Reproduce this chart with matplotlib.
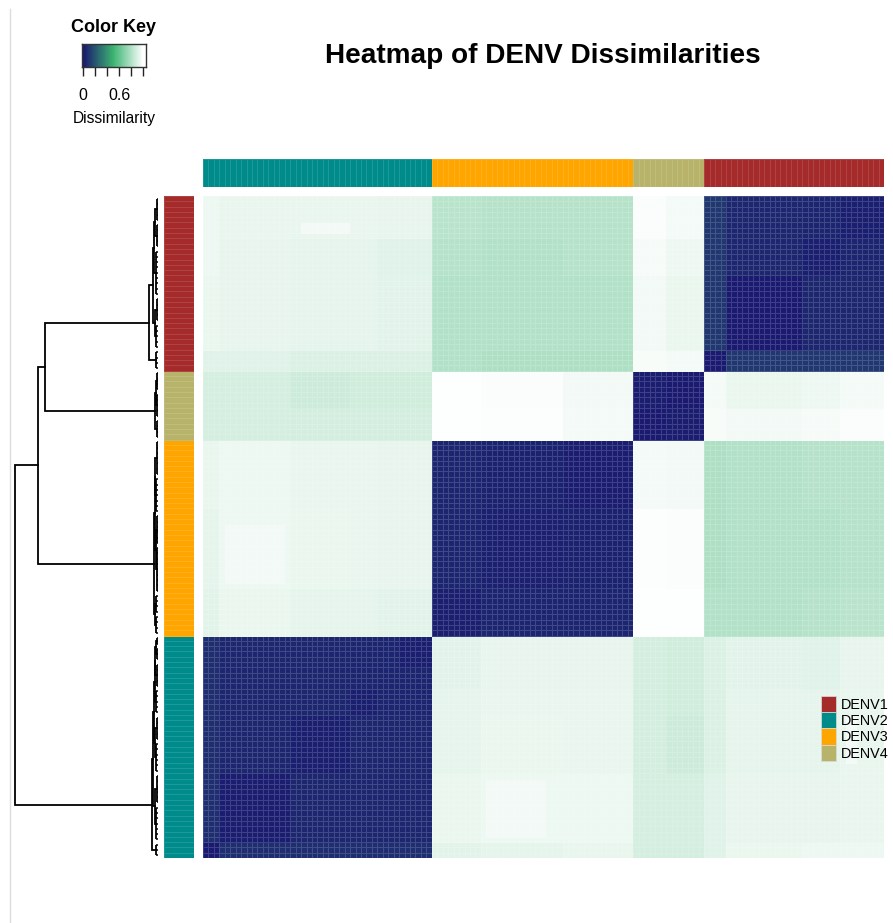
import numpy as np
import matplotlib
matplotlib.use('Agg')
import matplotlib.pyplot as plt
from matplotlib.colors import LinearSegmentedColormap, ListedColormap
from matplotlib.lines import Line2D
from matplotlib.patches import Patch

plt.rcParams['font.family'] = ['Liberation Sans', 'DejaVu Sans']

W, H = 893, 923

groups = ['DENV1', 'DENV2', 'DENV3', 'DENV4']
group_colors = ['#A52A2A', '#008B8B', '#FFA500', '#B8B36A']

# strain order along the columns, and bottom to top along the rows
order_groups = [1, 2, 3, 0]
order_counts = [42, 37, 13, 33]

# the matrix is symmetric and made of blocks of similar strains
seg_sizes = [3, 13, 11, 5, 10, 9, 15, 13, 6, 7, 4, 14, 7, 8]
upper_a = [.01, .07, .07, .07, .07, .925, .93, .94, .89, .89, .92, .945, .95, .95]
upper_b = [.015, .05, .05, .05, .945, .95, .95, .89, .89, .92, .935, .935, .94]
upper_c = [.02, .05, .05, .93, .945, .94, .885, .87, .905, .93, .93, .94]
upper_d = [.02, .04, .93, .94, .94, .885, .875, .905, .93, .93, .94]
upper_e = [.04, .925, .935, .935, .885, .875, .905, .925, .92, .935]
upper_f = [.02, .045, .045, .995, .995, .80, .80, .81, .82]
upper_g = [.03, .035, .99, .985, .79, .80, .80, .81]
upper_h = [.015, .97, .965, .79, .80, .81, .81]
upper_i = [.01, .015, .98, .965, .975, .985]
upper_j = [.01, .97, .945, .955, .97]
upper_k = [.01, .10, .10, .10]
upper_l = [.01, .05, .05]
upper_m = [.02, .04]
upper_n = [.02]
upper_rows = [upper_a, upper_b, upper_c, upper_d, upper_e, upper_f, upper_g,
              upper_h, upper_i, upper_j, upper_k, upper_l, upper_m, upper_n]

# smaller patches inside the blocks: first strain, last strain + 1 on each side, value
patch_rows = [(52, 62), (4, 15), (118, 120), (36, 42)]
patch_cols = [(6, 15), (52, 63), (18, 27), (36, 42)]
patch_values = [.965, .965, .965, .02]

key_ticks = [0, .2, .4, .6, .8, 1.0]
key_labels = ['0', '', '', '0.6', '', '']

# dendrogram: (height, child, child), a flat cluster is (height, n leaves)
tree_denv2 = (.042, (.016, 3),
              (.036,
               (.022, (.013, 7), (.010, 6)),
               (.028, (.020, (.014, 6), (.009, 5)),
                (.024, (.012, 5), (.018, (.010, 5), (.012, (.006, 3), (.004, 2)))))))
tree_denv3 = (.030,
              (.020, (.014, 4), (.012, 4)),
              (.024, (.016, (.010, 9), (.008, 6)), (.018, (.012, 7), (.007, 7))))
tree_denv4 = (.024, (.010, 4), (.014, (.007, 5), (.005, 4)))
tree_denv1 = (.063,
              (.016, 4),
              (.036,
               (.022, (.012, 5), (.009, 5)),
               (.030, (.014, 9), (.020, (.010, 5), (.006, 5)))))
tree_all = (1.0,
            tree_denv2,
            (.84, tree_denv3, (.79, tree_denv4, tree_denv1)))


def px_axes(fig, left, top, right, bottom):
    return fig.add_axes([left / W, 1 - bottom / H, (right - left) / W, (bottom - top) / H])


def draw_tree(ax, node, start):
    # returns the leaf count below the node and the y where its stem sits
    height, first, *rest = node
    if not rest:
        ys = start + np.arange(first) + .5
        ax.plot([height, height], [ys[0], ys[-1]], color='black', lw=1.3, solid_capstyle='butt')
        for y in ys:
            ax.plot([height, 0], [y, y], color='black', lw=1.1, solid_capstyle='butt')
        return first, ys.mean()
    n1, y1 = draw_tree(ax, first, start)
    n2, y2 = draw_tree(ax, rest[0], start + n1)
    ax.plot([first[0], height, height, rest[0][0]], [y1, y1, y2, y2],
            color='black', lw=1.3, solid_joinstyle='miter')
    return n1 + n2, (y1 + y2) / 2


# build the matrix
table = np.zeros((len(seg_sizes), len(seg_sizes)))
for i, row in enumerate(upper_rows):
    table[i, i:] = row
    table[i:, i] = row
matrix = np.repeat(np.repeat(table, seg_sizes, axis=0), seg_sizes, axis=1)
for (r0, r1), (c0, c1), v in zip(patch_rows, patch_cols, patch_values):
    matrix[r0:r1, c0:c1] = v
    matrix[c0:c1, r0:r1] = v
n = matrix.shape[0]
strain_groups = np.repeat(order_groups, order_counts)

heat_cmap = LinearSegmentedColormap.from_list('denv', ['#191970', '#3CB371', '#FFFFFF'])
group_cmap = ListedColormap(group_colors)

fig = plt.figure(figsize=(W / 100, H / 100), dpi=100, facecolor='white')

# page edge on the left of the original
fig.add_artist(Line2D([9.5 / W, 9.5 / W], [0, 1 - 9 / H], color='#dddddd', lw=1))

ax = px_axes(fig, 203, 196, 884, 858)
ax.pcolormesh(matrix, cmap=heat_cmap, vmin=0, vmax=1, edgecolors=(1, 1, 1, .16), linewidth=.5)
ax.axis('off')

top = px_axes(fig, 203, 159, 884, 187)
top.pcolormesh(strain_groups[np.newaxis, :], cmap=group_cmap, vmin=-.5, vmax=3.5,
               edgecolors=(1, 1, 1, .12), linewidth=.5)
top.axis('off')

side = px_axes(fig, 164, 196, 194, 858)
side.pcolormesh(strain_groups[:, np.newaxis], cmap=group_cmap, vmin=-.5, vmax=3.5,
                edgecolors=(1, 1, 1, .12), linewidth=.5)
side.axis('off')

dend = px_axes(fig, 0, 196, 160, 858)
draw_tree(dend, tree_all, 0)
dend.set_xlim(158 / 143, -2 / 143)
dend.set_ylim(0, n)
dend.axis('off')

# colour key
key = px_axes(fig, 82, 44, 146, 67)
levels = np.linspace(-.02, 1.05, 200)
key.pcolormesh(levels, [0, 1], levels[:-1][np.newaxis, :], cmap=heat_cmap, vmin=0, vmax=1)
key.set_xlim(-.02, 1.05)
key.set_yticks([])
key.set_xticks(key_ticks)
key.set_xticklabels(key_labels, fontsize=11.5)
key.tick_params(axis='x', length=6.5, width=1, pad=8.5, color='#222222')
for spine in key.spines.values():
    spine.set_color('#333333')
    spine.set_linewidth(1)

fig.text(114 / W, 1 - 27 / H, 'Color Key', fontsize=13, fontweight='bold', ha='center', va='center')
fig.text(114 / W, 1 - 118 / H, 'Dissimilarity', fontsize=11.2, ha='center', va='center')
fig.text(543 / W, 1 - 56 / H, 'Heatmap of DENV Dissimilarities', fontsize=20.1,
         fontweight='bold', ha='center', va='center')

handles = [Patch(facecolor=c, edgecolor='#dddddd', linewidth=.5) for c in group_colors]
fig.legend(handles, groups, loc='upper left', bbox_to_anchor=(821 / W, 1 - 696 / H),
           frameon=False, fontsize=10.4, labelspacing=0, handlelength=1.04, handleheight=1.35,
           handletextpad=.35, borderpad=0, borderaxespad=0)

fig.savefig('out.png', dpi=100)
